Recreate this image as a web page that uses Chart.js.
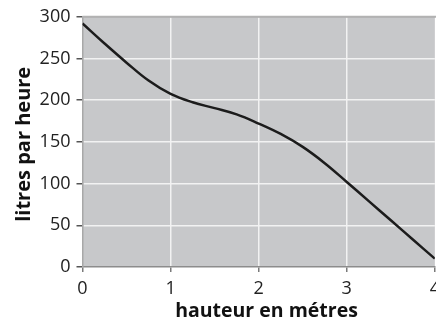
<!DOCTYPE html>
<html><head><meta charset="utf-8">
<script src="https://cdn.jsdelivr.net/npm/chart.js@4/dist/chart.umd.min.js"></script>
<style>html,body{margin:0;padding:0;overflow:hidden;background:#fff;width:436px;height:318px}#wrap{position:absolute;left:0;top:0}</style>
</head><body><div id="wrap"><canvas id="c" width="446" height="318"></canvas></div>
<script>
const heights = [0, 0.25, 0.5, 0.75, 1, 1.25, 1.5, 1.75, 2, 2.25, 2.5, 2.75, 3, 3.25, 3.5, 3.75, 4];
const litres = [292, 268, 245, 223.5, 207.5, 197.5, 190.5, 183, 172, 159.5, 144, 124.5, 102, 79, 56, 33, 10];
const xTicks = [0, 1, 2, 3, 4];
const yTicks = [0, 50, 100, 150, 200, 250, 300];
const xTitle = 'hauteur en métres';
const yTitle = 'litres par heure';

const FONT = '"Open Sans", sans-serif';
const bgPlugin = {
  id: 'bg',
  beforeDraw(chart) {
    const {ctx, chartArea: a} = chart;
    ctx.save();
    ctx.fillStyle = '#c7c8ca';
    ctx.fillRect(a.left, a.top, a.right - a.left, a.bottom - a.top);
    ctx.restore();
  },
  afterDatasetsDraw(chart) {
    const {ctx, chartArea: a} = chart;
    ctx.save();
    ctx.strokeStyle = '#b2b2b2';
    ctx.lineWidth = 2;
    ctx.beginPath();
    ctx.moveTo(a.left, a.top);
    ctx.lineTo(a.right + 10, a.top);
    ctx.stroke();
    ctx.restore();
  },
  afterDraw(chart) {
    const {ctx, chartArea: a} = chart;
    ctx.save();
    ctx.fillStyle = '#111';
    ctx.textAlign = 'center';
    ctx.textBaseline = 'middle';
    ctx.font = 'bold 19.5px ' + FONT;
    ctx.fillText(xTitle, a.left + 184, a.bottom + 44);
    ctx.translate(a.left - 58.5, a.top + 127.5);
    ctx.rotate(-Math.PI / 2);
    ctx.font = 'bold 20px ' + FONT;
    ctx.fillText(yTitle, 0, 0);
    ctx.restore();
  }
};

new Chart(document.getElementById('c'), {
  type: 'line',
  data: {
    datasets: [{
      data: heights.map((h, i) => ({x: h, y: litres[i]})),
      borderColor: '#1c1c1c',
      borderWidth: 2.5,
      pointRadius: 0,
      tension: 0.4,
      fill: false
    }]
  },
  options: {
    responsive: false,
    animation: false,
    layout: {padding: 0},
    plugins: {legend: {display: false}, tooltip: {enabled: false}},
    scales: {
      x: {
        type: 'linear', min: 0, max: 4,
        afterBuildTicks(s) { s.ticks = xTicks.map(v => ({value: v})); },
        afterFit(s) { s.height = 51; },
        ticks: {color: '#222', font: {family: FONT, size: 18}, padding: 6},
        grid: {
          color: c => (c.tick && (c.tick.value === 0 || c.tick.value === 4)) ? 'rgba(0,0,0,0)' : '#f2f2f2',
          lineWidth: 1.5,
          tickColor: '#7a7a7a', tickLength: 5, tickWidth: 1.5
        },
        border: {display: true, color: '#8c8c8c', width: 1.5},
        title: {display: false, text: xTitle}
      },
      y: {
        type: 'linear', min: 0, max: 300,
        afterBuildTicks(s) {
          const t = [];
          for (let v = 0; v <= 300; v += 25) t.push({value: v});
          s.ticks = t;
        },
        afterFit(s) { s.width = 82.5; },
        ticks: {
          color: '#222', font: {family: FONT, size: 18}, padding: 6,
          callback: v => yTicks.includes(v) ? String(v) : null
        },
        grid: {
          color: c => (c.tick && c.tick.value === 0) ? 'rgba(0,0,0,0)' : (c.tick && c.tick.value === 300 ? '#b2b2b2' : '#f2f2f2'),
          lineWidth: 1.5,
          tickColor: '#555', tickLength: 6, tickWidth: 1.5
        },
        border: {display: true, color: '#a8a8a8', width: 1.5},
        title: {display: false, text: yTitle}
      }
    }
  },
  plugins: [bgPlugin]
});
</script>
</body></html>
